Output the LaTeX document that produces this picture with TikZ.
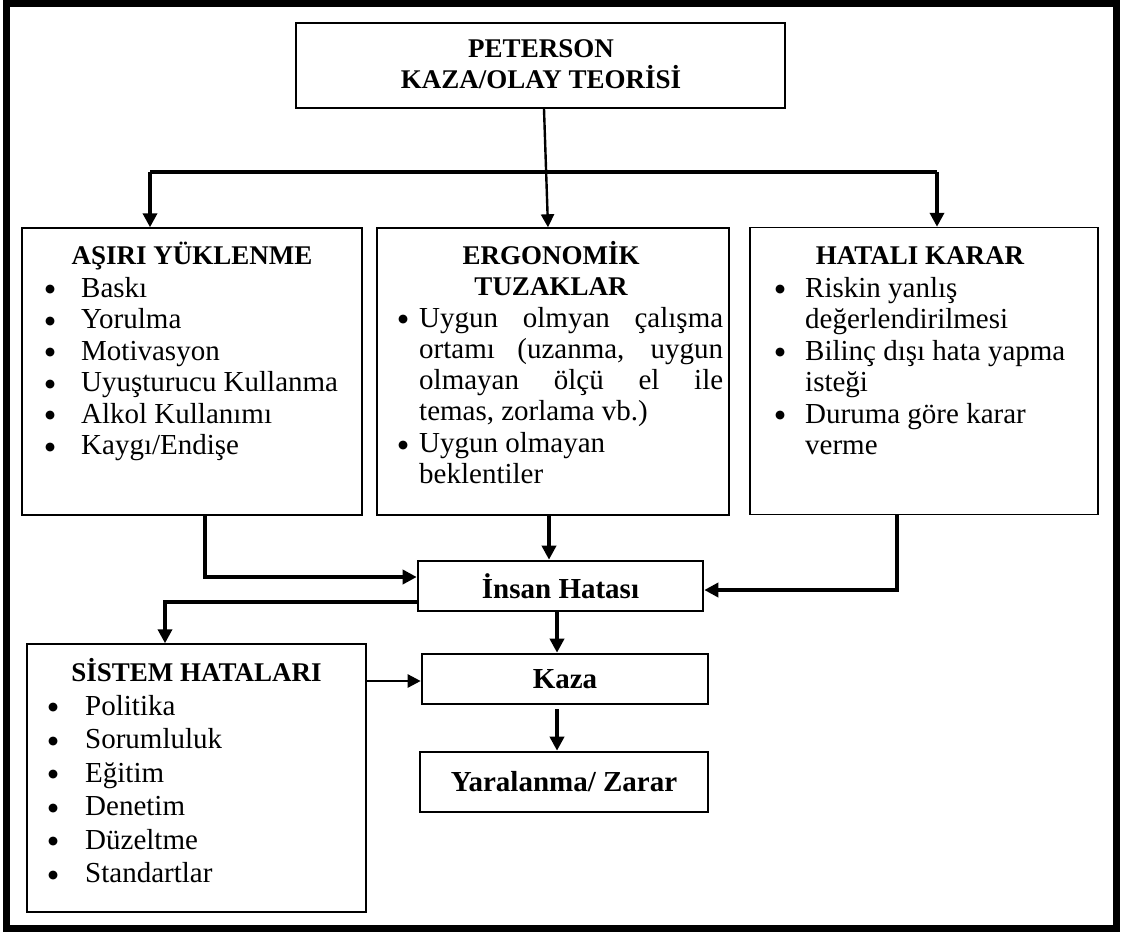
\documentclass[tikz,border=0pt]{standalone}
\usepackage{fontspec}
\setmainfont{Liberation Serif}
\newfontfamily\symfont{DejaVu Sans}
\usetikzlibrary{arrows.meta}

% bullet list helpers: \bw is the distance from the bullet to the text
\newlength\bw
\newcommand\blt{\raisebox{4.2pt}{\symfont\fontsize{11.5}{12}\selectfont ●}}
\newcommand\bitem[1]{\hbox{\makebox[\bw][l]{\blt}#1}}
\newcommand\cont[1]{\hbox{\kern\bw #1}}
\newcommand\liststack[3]{\vtop{\setlength\bw{#2}\baselineskip=#1\relax\lineskiplimit=-1000pt\relax #3}}

\begin{document}
\begin{tikzpicture}[x=1pt,y=-1pt,
  box/.style={draw, rectangle, line width=1.4pt, inner sep=0pt},
  boldbox/.style={draw, rectangle, line width=2.6pt, inner sep=0pt,
    font=\fontsize{29}{33}\selectfont\bfseries},
  head/.style={inner sep=0pt, anchor=base, font=\fontsize{27}{31}\selectfont\bfseries},
  items/.style={inner sep=0pt, anchor=base west, font=\fontsize{29}{32}\selectfont},
  conn/.style={line width=3.6pt, -{Triangle[length=14pt,width=14pt]}},
  thinconn/.style={line width=2.4pt, -{Triangle[length=13pt,width=13pt]}},
  bar/.style={line width=3.6pt}]
\useasboundingbox (0,0) rectangle (1123,936);

% outer frame
\draw[line width=7pt] (6.5,3.5) rectangle (1116.5,928.5);

% title
\node[box, line width=2.4pt, minimum width=489pt, minimum height=85pt] (T) at (540.5,65.5) {};
\node[head] (t1) at (541,58) {PETERSON};
\node[head] (t2) at (541,89) {KAZA/OLAY TEORİSİ};

% three cause boxes
\node[box, minimum width=340pt, minimum height=287pt] (A) at (192,371.5) {};
\node[box, minimum width=352pt, minimum height=287pt] (E) at (553,371.5) {};
\node[box, minimum width=348pt, minimum height=287pt] (H) at (924,371) {};

\node[head] (ah) at (192,264) {AŞIRI YÜKLENME};
\node[items] (al) at (45,297) {\liststack{31.5pt}{36pt}{%
  \bitem{Baskı}
  \bitem{Yorulma}
  \bitem{Motivasyon}
  \bitem{Uyuşturucu Kullanma}
  \bitem{Alkol Kullanımı}
  \bitem{Kaygı/Endişe}}};

\node[head] (eh1) at (551,264) {ERGONOMİK};
\node[head] (eh2) at (551,295) {TUZAKLAR};
\node[items] (el) at (398,327) {\liststack{31.3pt}{21pt}{%
  \bitem{\makebox[304pt][s]{Uygun olmyan çalışma}}
  \cont{\makebox[304pt][s]{ortamı (uzanma, uygun}}
  \cont{\makebox[304pt][s]{olmayan ölçü el ile}}
  \cont{temas, zorlama vb.)}
  \bitem{Uygun olmayan}
  \cont{beklentiler}}};

\node[head] (hh) at (920,264) {HATALI KARAR};
\node[items] (hl) at (775,297) {\liststack{31.5pt}{30pt}{%
  \bitem{Riskin yanlış}
  \cont{değerlendirilmesi}
  \bitem{Bilinç dışı hata yapma}
  \cont{isteği}
  \bitem{Duruma göre karar}
  \cont{verme}}};

% system errors
\node[box, minimum width=339pt, minimum height=268pt] (S) at (196.5,778) {};
\node[head] (sh) at (196.5,681) {SİSTEM HATALARI};
\node[items] (sl) at (48,715) {\liststack{33.5pt}{37pt}{%
  \bitem{Politika}
  \bitem{Sorumluluk}
  \bitem{Eğitim}
  \bitem{Denetim}
  \bitem{Düzeltme}
  \bitem{Standartlar}}};

% chain of results
\node[boldbox, minimum width=285pt, minimum height=50pt] (I) at (560.5,586) {İnsan Hatası};
\node[boldbox, minimum width=286pt, minimum height=50pt] (K) at (565,679) {Kaza};
\node[boldbox, minimum width=288pt, minimum height=60pt] (Y) at (564,782) {Yaralanma/ Zarar};

% distribution bar under the title
\coordinate (barL) at (150,172);
\coordinate (barR) at (937,172);
\draw[bar] (barL) -- (barR);
\draw[conn] (barL) -- (barL |- A.north);
\draw[conn] (barR) -- (barR |- H.north);
\draw[thinconn] ([xshift=3.5pt]T.south) -- ([xshift=-5pt]E.north);

% causes into human error
\draw[conn] ([xshift=13pt]A.south) |- ([yshift=9pt]I.west);
\draw[conn] ([xshift=-4pt]E.south) -- ([xshift=-4pt]E.south |- I.north);
\draw[conn] ([xshift=-27pt]H.south) |- ([yshift=-4pt]I.east);

% human error to system errors and accident
\draw[conn] ([yshift=-16pt]I.west) -| ([xshift=-31.5pt]S.north);
\draw[conn] ([xshift=-3.5pt]I.south) -- ([xshift=-3.5pt]I.south |- K.north);
\coordinate (se) at ([yshift=97pt]S.east);
\draw[thinconn] (se) -- (se -| K.west);
\draw[conn] ([xshift=-8pt,yshift=-4pt]K.south) -- ([xshift=-8pt]K.south |- Y.north);
\end{tikzpicture}
\end{document}
